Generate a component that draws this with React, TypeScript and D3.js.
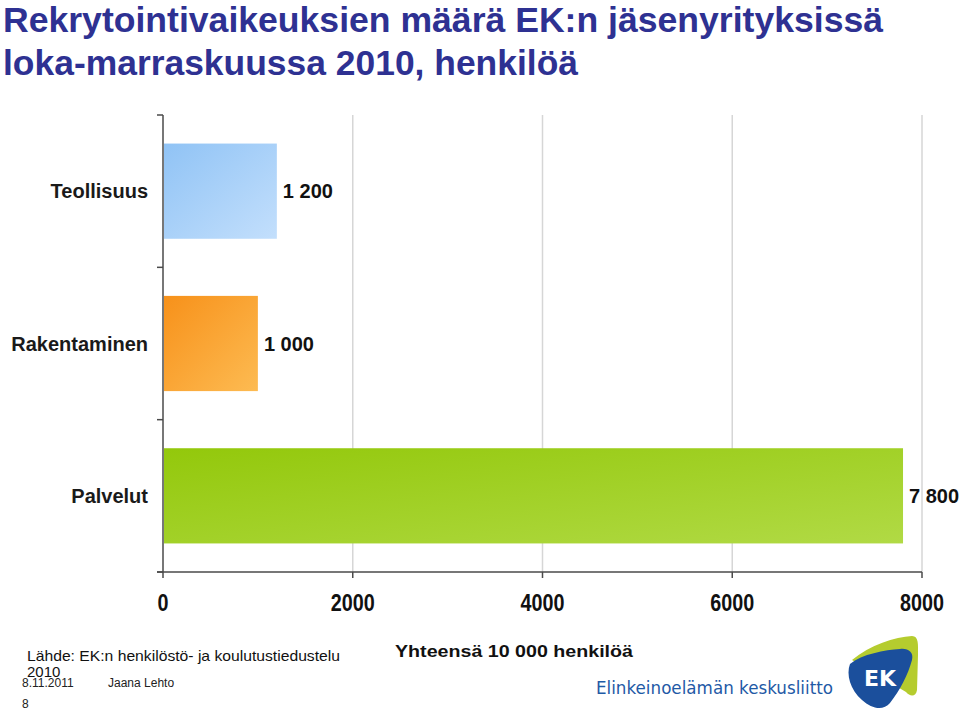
import React from "react";
import * as d3 from "d3";

const titleLines = [
  "Rekrytointivaikeuksien määrä EK:n jäsenyrityksissä",
  "loka-marraskuussa 2010, henkilöä",
];
const categories = ["Teollisuus", "Rakentaminen", "Palvelut"];
const values = [1200, 1000, 7800];
const valueLabels = ["1 200", "1 000", "7 800"];
const xTicks = [0, 2000, 4000, 6000, 8000];
const barColors = [
  ["#90c3f5", "#c3dffc"],
  ["#f7911a", "#fdbb52"],
  ["#93c80b", "#b1da45"],
];

export default function App() {
  const x = d3.scaleLinear().domain([0, 8000]).range([163, 922]);
  const y = d3
    .scaleBand<string>()
    .domain(categories)
    .range([115, 572])
    .paddingInner(0.375)
    .paddingOuter(0.1875);
  const step = y.step();
  const bounds = [0, 1, 2, 3].map((i) => 115 + i * step);
  const axisColor = "#4a4a4a";
  const font = "'Liberation Sans', Arial, Helvetica, sans-serif";

  return (
    <svg
      width={960}
      height={716}
      style={{ position: "absolute", left: 0, top: 0, background: "#fff" }}
      fontFamily={font}
    >
      <defs>
        {barColors.map((c, i) => (
          <linearGradient key={i} id={`g${i}`} x1="0" y1="0" x2="1" y2="1">
            <stop offset="0%" stopColor={c[0]} />
            <stop offset="100%" stopColor={c[1]} />
          </linearGradient>
        ))}
      </defs>

      {/* Title */}
      <g fill="#2e3192" fontWeight="bold" fontSize={35}>
        <text x={3} y={32} textLength={880} lengthAdjust="spacingAndGlyphs">
          {titleLines[0]}
        </text>
        <text x={3} y={75} textLength={575} lengthAdjust="spacingAndGlyphs">
          {titleLines[1]}
        </text>
      </g>

      {/* Gridlines */}
      {xTicks.slice(1).map((t) => (
        <line
          key={t}
          x1={x(t)}
          x2={x(t)}
          y1={115}
          y2={572}
          stroke="#d6d6d6"
          strokeWidth={1.5}
        />
      ))}

      {/* Bars */}
      {categories.map((c, i) => (
        <rect
          key={c}
          x={x(0) + 1}
          y={y(c)!}
          width={x(values[i]) - x(0) - 1}
          height={y.bandwidth()}
          fill={`url(#g${i})`}
        />
      ))}

      {/* Y axis */}
      <line x1={163} x2={163} y1={115} y2={572} stroke={axisColor} strokeWidth={1.5} />
      {bounds.map((b, i) => (
        <line key={i} x1={157} x2={163} y1={b} y2={b} stroke={axisColor} strokeWidth={1.5} />
      ))}

      {/* X axis */}
      <line x1={157} x2={922} y1={572} y2={572} stroke={axisColor} strokeWidth={1.5} />
      {xTicks.map((t) => (
        <line key={t} x1={x(t)} x2={x(t)} y1={572} y2={578} stroke={axisColor} strokeWidth={1.5} />
      ))}
      {xTicks.map((t) => (
        <text
          key={t}
          x={x(t) - String(t).length * 5.5}
          y={611}
          fontWeight="bold"
          fontSize={23}
          fill="#111"
          textLength={String(t).length * 11}
          lengthAdjust="spacingAndGlyphs"
        >
          {String(t)}
        </text>
      ))}

      {/* Category labels */}
      {categories.map((c) => (
        <text
          key={c}
          x={148}
          y={y(c)! + y.bandwidth() / 2 + 7}
          textAnchor="end"
          fontWeight="bold"
          fontSize={20}
          fill="#1a1a1a"
        >
          {c}
        </text>
      ))}

      {/* Value labels */}
      {categories.map((c, i) => (
        <text
          key={c}
          x={x(values[i]) + 6}
          y={y(c)! + y.bandwidth() / 2 + 7}
          fontWeight="bold"
          fontSize={20}
          fill="#111"
        >
          {valueLabels[i]}
        </text>
      ))}

      {/* Footer */}
      <text x={27} y={661} fontSize={15} fill="#111" textLength={313} lengthAdjust="spacingAndGlyphs">
        Lähde: EK:n henkilöstö- ja koulutustiedustelu
      </text>
      <text x={27} y={677} fontSize={15} fill="#111">2010</text>
      <text x={22} y={687} fontSize={12} fill="#222">8.11.2011</text>
      <text x={108} y={687} fontSize={12} fill="#222">Jaana Lehto</text>
      <text x={22} y={708} fontSize={12} fill="#222">8</text>
      <text
        x={395}
        y={657}
        fontSize={17}
        fontWeight="bold"
        fill="#111"
        textLength={238}
        lengthAdjust="spacingAndGlyphs"
      >
        Yhteensä 10 000 henkilöä
      </text>

      {/* Logo */}
      <text
        x={596}
        y={694}
        fontSize={18}
        fill="#1f5aa6"
        fontFamily="'DejaVu Sans', Verdana, sans-serif"
        textLength={237}
        lengthAdjust="spacingAndGlyphs"
      >
        Elinkeinoelämän keskusliitto
      </text>
      <path
        d="M852,660 C870,645 895,637 912,636 C919,636 918,645 918,655 L917,690 C916,697 910,697 906,692 Z"
        fill="#b5cc2e"
      />
      <path
        d="M850,664 C846,674 850,690 862,700 C872,709 883,711 890,703 C900,690 908,675 912,660 C914,652 908,648 900,649 C885,650 862,654 850,664 Z"
        fill="#1b4f9c"
      />
      <text
        x={880}
        y={686}
        textAnchor="middle"
        fontSize={22}
        fontWeight="bold"
        fill="#fff"
        fontFamily="'DejaVu Sans', Verdana, sans-serif"
      >
        EK
      </text>
    </svg>
  );
}
